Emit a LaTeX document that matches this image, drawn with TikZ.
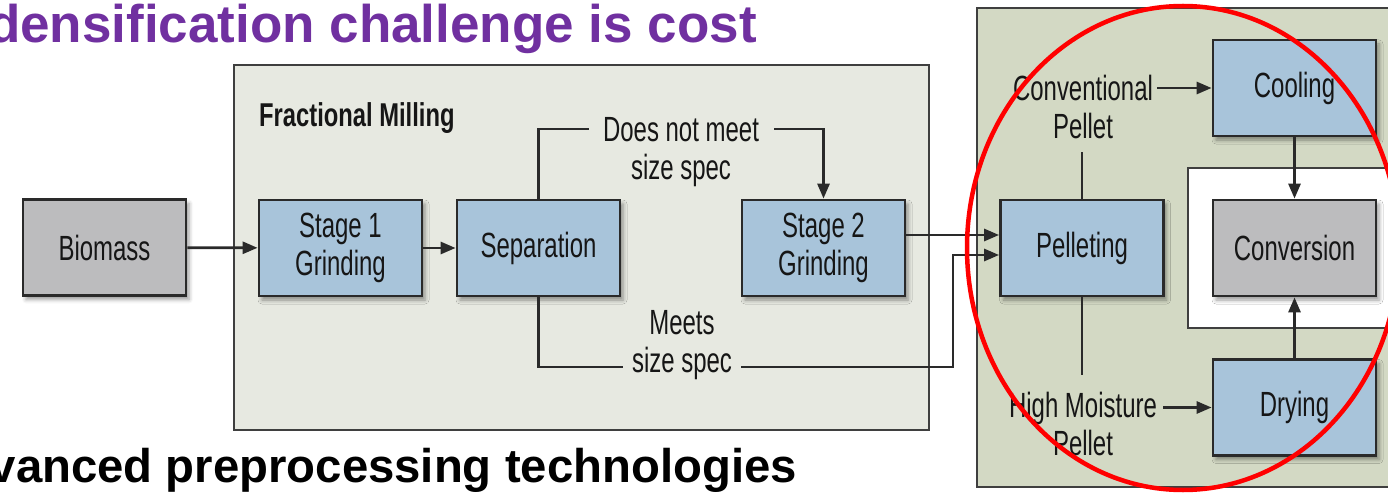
\documentclass[tikz,border=0pt]{standalone}
\usepackage{fontspec}
\setmainfont{Liberation Sans}
\newfontfamily\narrowfont[FakeStretch=0.685]{Liberation Sans}
\newfontfamily\narrowboldfont[FakeStretch=0.72]{Liberation Sans Bold}
\usetikzlibrary{arrows.meta,shadows.blur}

\definecolor{boxblue}{RGB}{168,196,218}
\definecolor{boxgray}{RGB}{188,188,190}
\definecolor{millfill}{RGB}{231,233,225}
\definecolor{pelletfill}{RGB}{211,217,196}
\definecolor{edge}{RGB}{42,42,42}
\definecolor{ink}{RGB}{22,22,22}
\definecolor{titlepurple}{RGB}{112,48,160}

\newcommand\dlabel{\narrowfont\fontsize{35}{38}\selectfont}

\begin{document}
\begin{tikzpicture}[x=1pt,y=-1pt,
  proc/.style={draw=edge, line width=2.8pt, minimum width=163pt, minimum height=96pt,
    inner sep=0pt, fill=boxblue, font=\dlabel, align=center, text=ink,
    blur shadow={shadow xshift=3pt, shadow yshift=-4pt, shadow blur radius=4pt, shadow opacity=40}},
  grayproc/.style={proc, fill=boxgray},
  panel/.style={draw=edge!90, line width=2.2pt},
  conn/.style={draw=edge, line width=2.8pt},
  arr/.style={conn, -{Triangle[length=15pt,width=12pt]}},
  lbl/.style={font=\dlabel, align=center, text=ink, inner sep=0pt}]
\useasboundingbox (0,0) rectangle (1388,494);

% headings
\node[anchor=base east, inner sep=0pt, text=titlepurple,
  font=\bfseries\fontsize{53}{60}\selectfont] (title) at (757,43) {densification challenge is cost};
\node[anchor=base east, inner sep=0pt, text=black,
  font=\bfseries\fontsize{47.3}{52}\selectfont] (subtitle) at (797,482) {vanced preprocessing technologies};

% panels
\draw[panel, fill=millfill] (234,65) rectangle (929,430);
\draw[panel, fill=pelletfill] (977,8) rectangle (1400,487);
\draw[panel, fill=white] (1188,168) rectangle (1400,328);

\node[anchor=base west, inner sep=0pt, text=ink,
  font=\narrowboldfont\fontsize{33}{36}\selectfont] (fm) at (259,127) {Fractional Milling};

% process boxes
\node[grayproc] (bio)  at (104.5,247.5) {Biomass};
\node[proc]     (st1)  at (340.5,248) {Stage 1\\Grinding};
\node[proc]     (sep)  at (538.5,248) {Separation};
\node[proc]     (st2)  at (823.5,248) {Stage 2\\Grinding};
\node[proc]     (pel)  at (1082,248) {Pelleting};
\node[proc]     (cool) at (1294.5,88) {Cooling};
\node[grayproc] (conv) at (1294.5,248) {Conversion};
\node[proc]     (dry)  at (1294.5,407.5) {Drying};

% branch labels
\node[lbl] (dnm)  at (681,152) {Does not meet\\size spec};
\node[lbl] (meet) at (682,345) {Meets\\size spec};
\node[lbl] (cpel) at (1083,106.5) {Conventional\\Pellet};
\node[lbl] (hpel) at (1083,423.5) {High Moisture\\Pellet};

\coordinate (dnmL) at (589,129);
\coordinate (dnmR) at (774,129);
\coordinate (mL) at (623,367);
\coordinate (mR) at (741,367);
\coordinate (mK) at (953,367);
\coordinate (cpelR) at (1157,88);
\coordinate (hpelR) at (1163,407.5);

% connectors
\draw[arr] (bio) -- (st1);
\draw[arr] (st1) -- (sep);
\draw[conn] (sep.north) |- (dnmL);
\draw[arr] (dnmR) -| (st2.north);
\draw[conn] (sep.south) |- (mL);
\draw[arr] (mR) -- (mK) |- ([yshift=-7pt]pel.west);
\draw[arr] ([yshift=13pt]st2.east) -- ([yshift=13pt]pel.west);
\draw[conn] (pel.north) -- ++(0,-47);
\draw[conn] (pel.south) -- ++(0,78);
\draw[arr] (cpelR) -- (cool.west);
\draw[arr] (hpelR) -- (dry.west);
\draw[arr] (cool) -- (conv);
\draw[arr] (dry) -- (conv);

% highlight ring
\draw[red, line width=4.5pt] (1183,248) ellipse [x radius=216, y radius=242];
\end{tikzpicture}
\end{document}
